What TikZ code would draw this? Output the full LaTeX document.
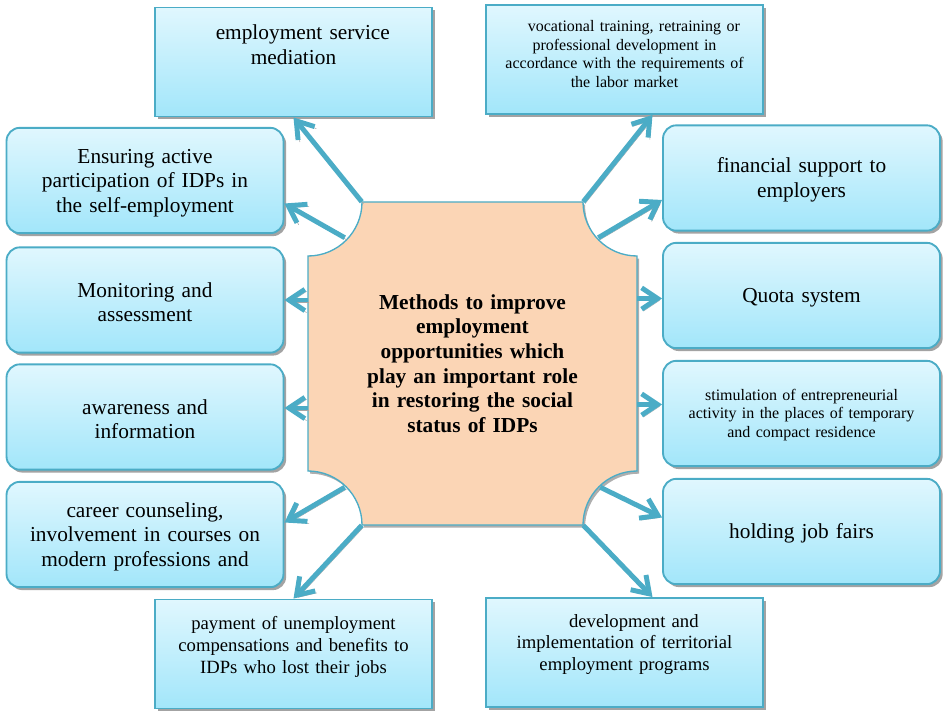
\documentclass[tikz,border=0pt]{standalone}
\usepackage{fontspec}
\setmainfont{Liberation Serif}
\usetikzlibrary{positioning, arrows.meta, calc, shadows}

\definecolor{edge}{HTML}{4BACC6}
\definecolor{boxtop}{HTML}{E0F7FE}
\definecolor{boxbot}{HTML}{A2E6FA}
\definecolor{peach}{HTML}{FBD5B5}

\begin{document}
\begin{tikzpicture}[
    x=0.75pt, y=-0.75pt,
    font=\fontsize{16pt}{18.5pt}\selectfont,
    rbox/.style={rectangle, rounded corners=10pt, draw=edge, line width=1.4pt, top color=boxtop, bottom color=boxbot, text width=200pt, minimum width=207.75pt, minimum height=79pt, align=center, inner sep=2pt, execute at begin node={\rule{0pt}{0.9em}}, drop shadow={shadow xshift=2pt, shadow yshift=-2.2pt, fill=black!45, opacity=0.8}},
    sbox/.style={rbox, sharp corners, minimum height=81.75pt},
    small/.style={font=\fontsize{12pt}{14pt}\selectfont},
    mid/.style={font=\fontsize{14pt}{16.25pt}\selectfont},
    hubline/.style={draw=edge, line width=1pt, fill=peach, drop shadow={shadow xshift=1.5pt, shadow yshift=-2pt, fill=black!45, opacity=0.7}},
    hub/.style={rectangle, minimum width=246.75pt, minimum height=242.25pt, text width=180pt, align=center, inner sep=0pt, font=\fontsize{16pt}{18.5pt}\selectfont\bfseries},
    ar/.style={-{Straight Barb[length=12pt, width=16pt]}, line width=3.7pt, draw=edge, preaction={draw=black!35, transform canvas={shift={(1.3pt,-1.5pt)}}}}
]
\useasboundingbox (0,0) rectangle (945,712);

% central block with hollowed corners
\coordinate (nw) at (308,202);
\coordinate (se) at (637,525);
\draw[hubline] ($(nw)+(54,0)$) -- ($(nw -| se)+(-54,0)$) arc[start angle=180, end angle=90, radius=54]
    -- ($(se)+(0,-54)$) arc[start angle=270, end angle=180, radius=54]
    -- ($(nw |- se)+(54,0)$) arc[start angle=0, end angle=-90, radius=54]
    -- ($(nw)+(0,54)$) arc[start angle=90, end angle=0, radius=54] -- cycle;
\node[hub] (hub) at ($(nw)!0.5!(se)$) {Methods to improve\\ employment\\ opportunities which\\ play an important role\\ in restoring the social\\ status of IDPs};

% top and bottom boxes
\node[sbox, text depth=47.7pt] (srv) at (293.5,62) {\hspace*{14pt}employment service\\ mediation};
\node[sbox, small, text depth=52.7pt] (voc) at (624.5,59.5) {\hspace*{14pt}vocational training, retraining or\\ professional development in\\ accordance with the requirements of\\ the labor market};
\node[sbox, mid, text depth=49pt] (pay) at (293.5,654) {payment of unemployment\\ compensations and benefits to\\ IDPs who lost their jobs};
\node[sbox, mid, text depth=50.5pt] (dev) at (624.5,652.5) {\hspace*{14pt}development and\\ implementation of territorial\\ employment programs};

% left column
\node[rbox] (self) at (145,180.5) {Ensuring active\\ participation of IDPs in\\ the self-employment};
\node[rbox] (mon) at (145,300) {Monitoring and\\ assessment};
\node[rbox] (aware) at (145,417) {awareness and\\ information};
\node[rbox] (career) at (145,534.5) {career counseling,\\ involvement in courses on\\ modern professions and};

% right column
\node[rbox] (fin) at (801.5,178) {financial support to\\ employers};
\node[rbox] (quota) at (801.5,295.5) {Quota system};
\node[rbox, small] (stim) at (801.5,413.5) {stimulation of entrepreneurial\\ activity in the places of temporary\\ and compact residence};
\node[rbox] (fairs) at (801.5,531.5) {holding job fairs};

\draw[ar] ($(hub.north west)+(54,0)$) -- (srv.south);
\draw[ar] ($(hub.north west)+(37,36)$) -- ($(self.east)+(0,23)$);
\draw[ar] (hub.west |- mon.east) -- (mon.east);
\draw[ar] ($(hub.west |- aware.east)+(0,-9)$) -- ($(aware.east)+(0,-9)$);
\draw[ar] ($(hub.south west)+(37,-38)$) -- ($(career.east)+(0,-12)$);
\draw[ar] ($(hub.south west)+(54,0)$) -- (pay.north);
\draw[ar] ($(hub.south east)+(-54,0)$) -- ($(dev.north)+(28,0)$);
\draw[ar] ($(hub.south east)+(-37,-38)$) -- ($(fairs.west)+(0,-14)$);
\draw[ar] ($(hub.east |- stim.west)+(0,-9)$) -- ($(stim.west)+(0,-9)$);
\draw[ar] ($(hub.east |- quota.west)+(0,3)$) -- ($(quota.west)+(0,3)$);
\draw[ar] ($(hub.north east)+(-39,36)$) -- ($(fin.west)+(0,22)$);
\draw[ar] ($(hub.north east)+(-54,0)$) -- ($(voc.south)+(28,0)$);
\end{tikzpicture}
\end{document}
